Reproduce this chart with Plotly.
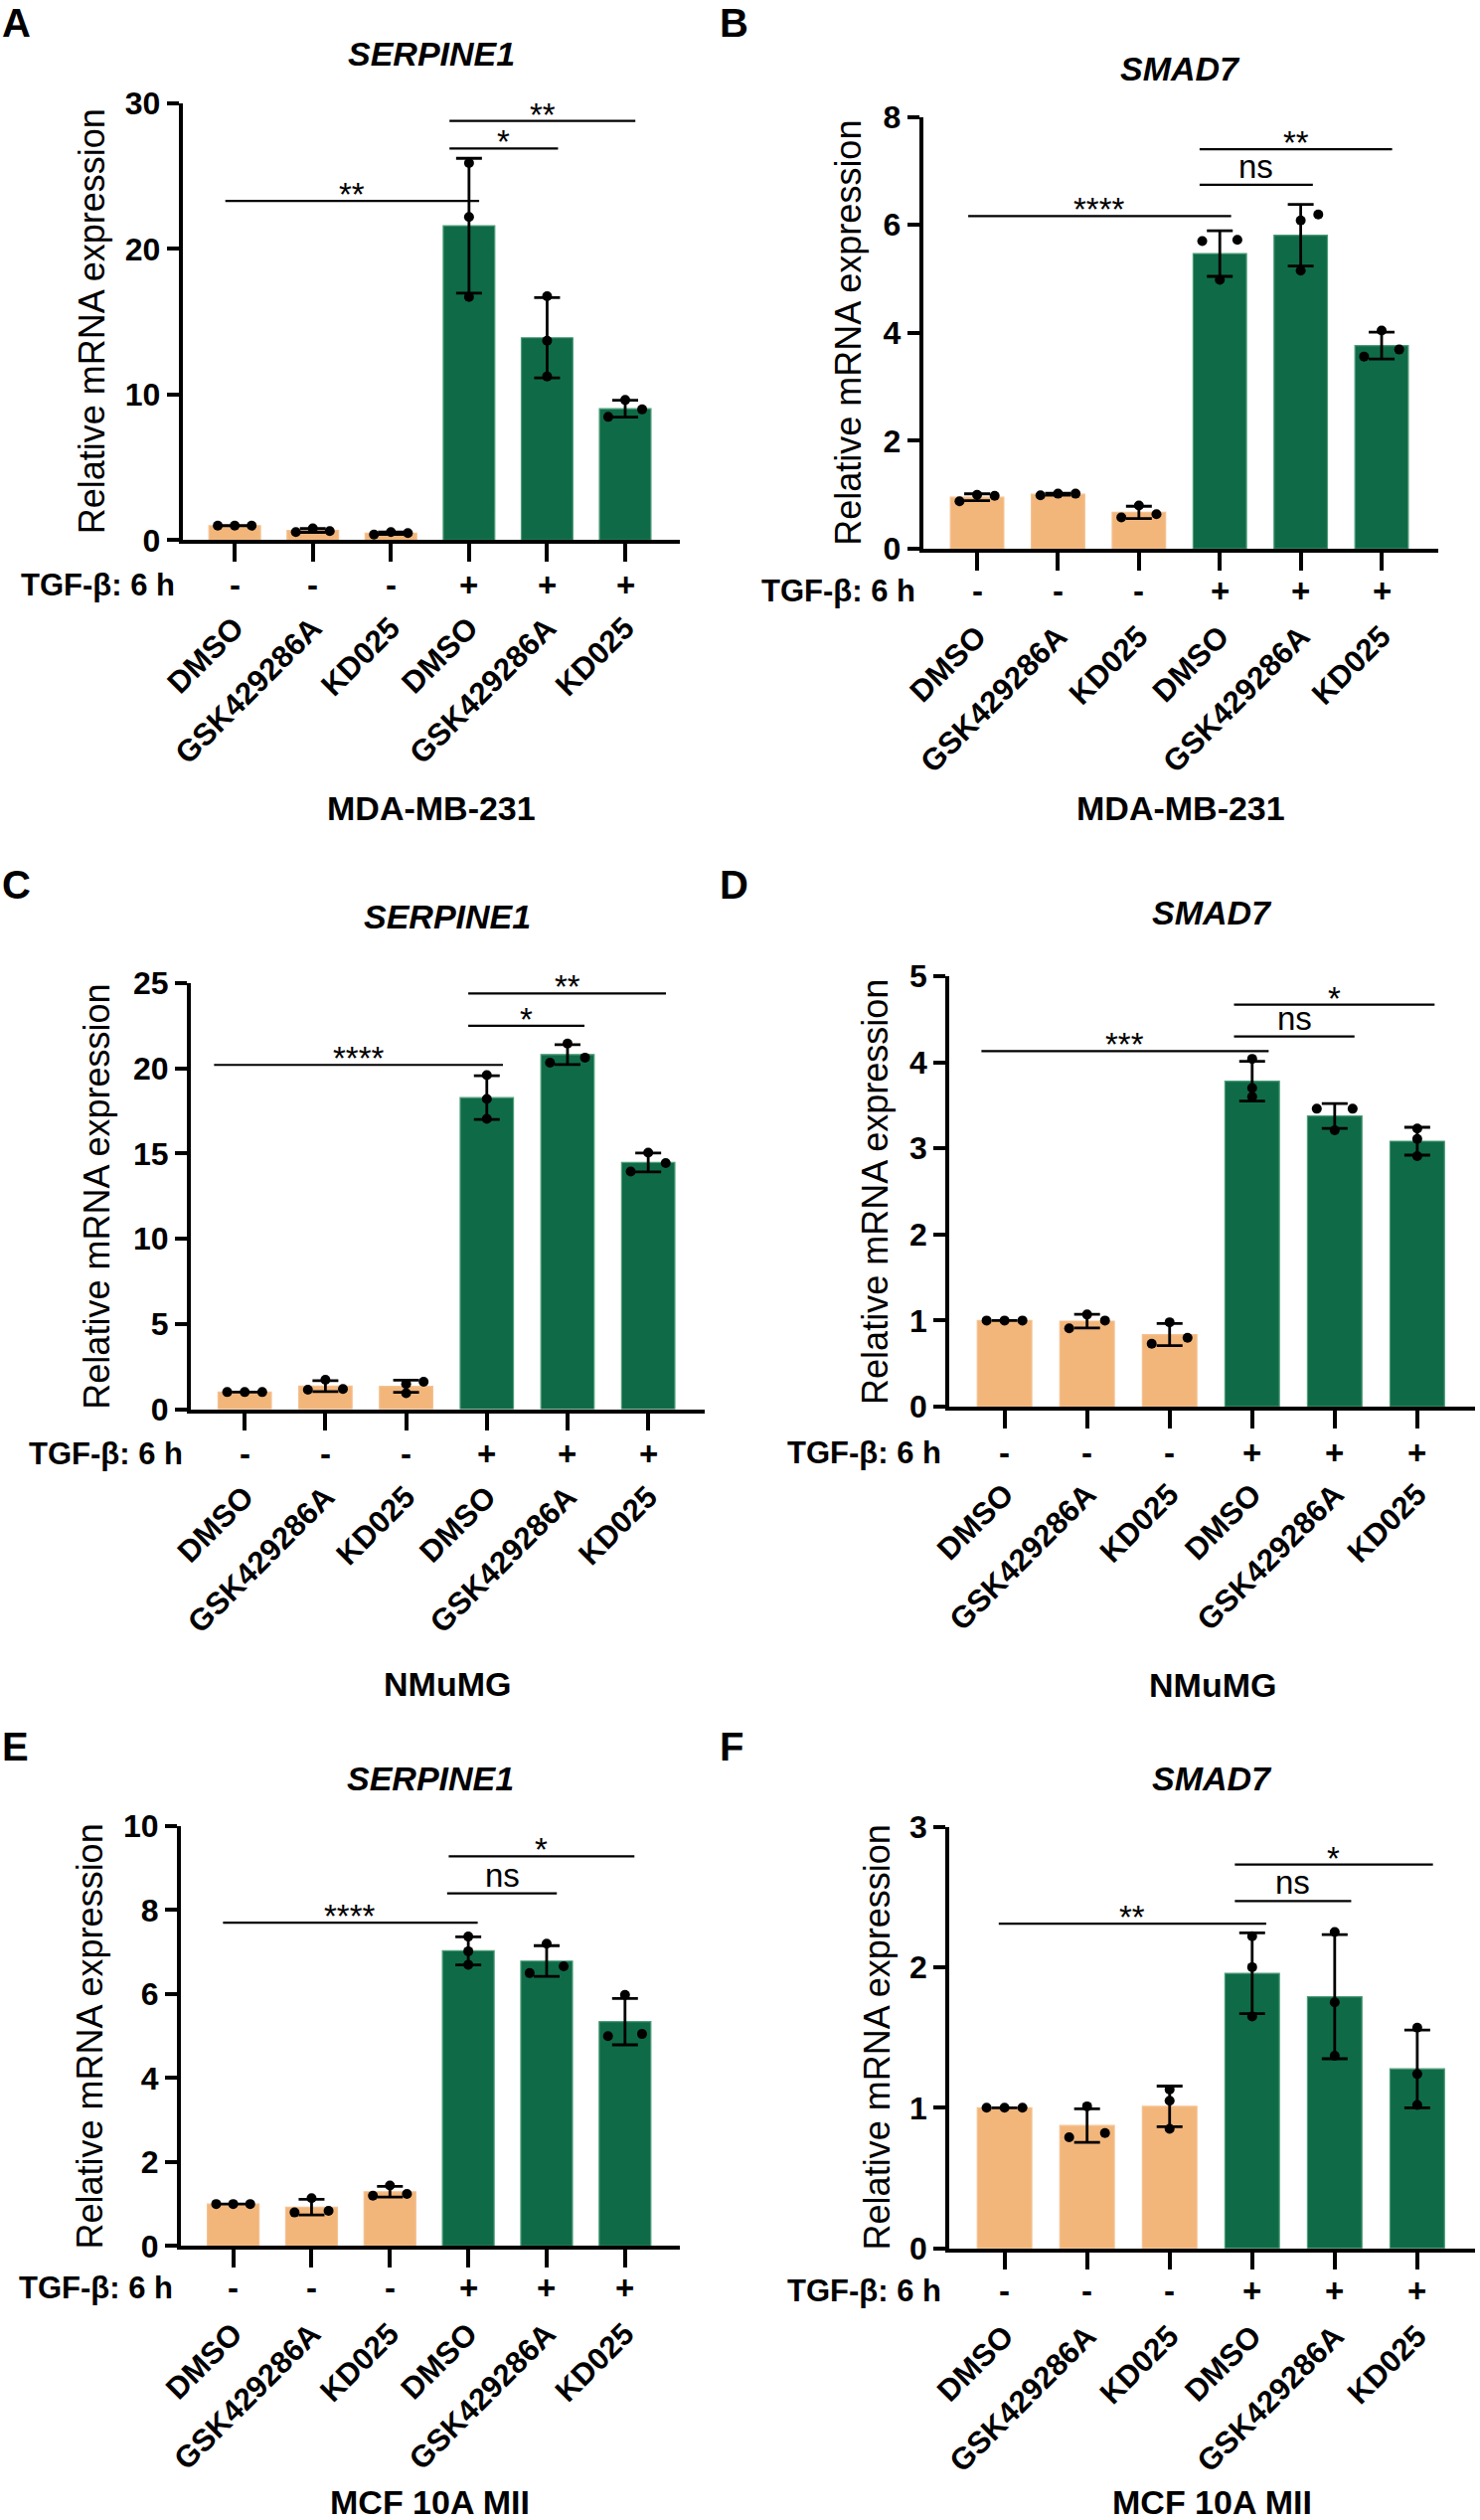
import numpy as np
import plotly.graph_objects as go

W, H = 1489, 2535

# ---------------- data ----------------
treatments = ["DMSO", "GSK429286A", "KD025", "DMSO", "GSK429286A", "KD025"]
tgf_signs = ["-", "-", "-", "+", "+", "+"]
genes = ["SERPINE1", "SMAD7", "SERPINE1", "SMAD7", "SERPINE1", "SMAD7"]
cell_lines = ["MDA-MB-231", "MDA-MB-231", "NMuMG", "NMuMG", "MCF 10A MII", "MCF 10A MII"]
panel_letters = ["A", "B", "C", "D", "E", "F"]
y_max = [30, 8, 25, 5, 10, 3]
y_dtick = [10, 2, 5, 1, 2, 1]

# replicate values (3 per group)
A_vals = [[1.0, 1.0, 1.0], [0.56, 0.81, 0.63], [0.39, 0.56, 0.49],
          [25.9, 22.2, 16.7], [16.76, 13.7, 11.25], [8.47, 9.63, 8.98]]
B_vals = [[0.88, 1.0, 0.98], [0.99, 1.02, 1.02], [0.58, 0.80, 0.64],
          [5.70, 5.72, 4.98], [6.08, 6.19, 5.15], [3.56, 4.04, 3.69]]
C_vals = [[1.0, 1.0, 1.0], [1.14, 1.72, 1.18], [0.93, 1.48, 1.60],
          [19.6, 18.2, 17.04], [20.33, 21.46, 20.63], [13.94, 15.05, 14.44]]
D_vals = [[1.0, 1.0, 1.0], [0.91, 1.07, 1.0], [0.73, 0.98, 0.80],
          [4.04, 3.70, 3.60], [3.46, 3.46, 3.21], [3.23, 3.11, 2.91]]
E_vals = [[1.0, 1.0, 1.0], [0.80, 1.14, 0.84], [1.20, 1.44, 1.24],
          [7.37, 7.02, 6.70], [6.50, 7.20, 6.66], [5.0, 5.98, 5.05]]
F_vals = [[1.0, 1.0, 1.0], [0.79, 1.01, 0.82], [1.13, 1.05, 0.85],
          [2.22, 2.0, 1.65], [2.25, 1.75, 1.37], [1.57, 1.24, 1.02]]

# horizontal scatter slot of each replicate dot (-1 left, 0 centre, 1 right)
A_slots = [[-1, 0, 1], [-1, 0, 1], [-1, 0, 1], [0, 0, 0], [0, 0, 0], [-1, 0, 1]]
B_slots = [[-1, 0, 1], [-1, 0, 1], [-1, 0, 1], [-1, 1, 0], [0, 1, 0], [-1, 0, 1]]
C_slots = [[-1, 0, 1], [-1, 0, 1], [0, 0, 1], [0, 0, 0], [-1, 0, 1], [-1, 0, 1]]
D_slots = [[-1, 0, 1], [-1, 0, 1], [-1, 0, 1], [0, 0, 0], [-1, 1, 0], [0, 0, 0]]
E_slots = [[-1, 0, 1], [-1, 0, 1], [-1, 0, 1], [0, 0, 0], [-1, 0, 1], [-1, 0, 1]]
F_slots = [[-1, 0, 1], [-1, 0, 1], [0, 0, 0], [0, 0, 0], [0, 0, 0], [0, 0, 0]]

# significance brackets: (x start, x end, y level, label)
A_sig = [(-0.12, 3.13, 23.3, "**"), (2.75, 4.14, 26.9, "*"), (2.75, 5.13, 28.8, "**")]
B_sig = [(-0.11, 3.14, 6.16, "****"), (2.75, 4.15, 6.74, "ns"), (2.75, 5.13, 7.40, "**")]
C_sig = [(-0.38, 3.20, 20.2, "****"), (2.77, 4.21, 22.5, "*"), (2.77, 5.22, 24.4, "**")]
D_sig = [(-0.28, 3.20, 4.13, "***"), (2.78, 4.24, 4.30, "ns"), (2.78, 5.21, 4.67, "*")]
E_sig = [(-0.13, 3.12, 7.70, "****"), (2.73, 4.13, 8.40, "ns"), (2.75, 5.12, 9.28, "*")]
F_sig = [(-0.07, 3.17, 2.31, "**"), (2.79, 4.20, 2.47, "ns"), (2.79, 5.19, 2.73, "*")]

all_vals = [A_vals, B_vals, C_vals, D_vals, E_vals, F_vals]
all_slots = [A_slots, B_slots, C_slots, D_slots, E_slots, F_slots]
all_sig = [A_sig, B_sig, C_sig, D_sig, E_sig, F_sig]

# ---------------- layout / style ----------------
ORANGE = "#F2B67B"
GREEN = "#0F6B47"
bar_colors = [ORANGE] * 3 + [GREEN] * 3
bar_edges = ["#F5C190"] * 3 + ["#4E9C78"] * 3
FONT = "Liberation Sans, Arial, Helvetica, sans-serif"
SLOT = 0.217

# pixel boxes: (x_left, x_right, y_top, y_bottom)
boxes = [(183.5, 684, 104, 543.4), (928.5, 1447, 117.5, 552),
         (191.8, 709, 989, 1417.5), (955, 1484, 982, 1415),
         (181.8, 684, 1837, 2259.4), (955, 1484, 1837.5, 2261.7)]
ytitle_x = [92.6, 854, 97.4, 880.4, 90.3, 882.8]
title_y = [54, 69, 922, 918, 1789, 1789]
cell_y = [813, 813, 1694, 1695, 2517, 2517]
tgf_y = [588, 595, 1462, 1461, 2301, 2304]
letter_pos = [(0, 23), (722, 23), (0, 890), (722, 890), (0, 1757), (722, 1757)]


def px(x):
    return x / W


def py(y):
    return 1 - y / H


fig = go.Figure()
annotations = []
shapes = []
cats = np.arange(6)

for p in range(6):
    n = p + 1
    xa = "x" if n == 1 else f"x{n}"
    ya = "y" if n == 1 else f"y{n}"
    vals = np.array(all_vals[p])
    means = vals.mean(axis=1)
    sds = vals.std(axis=1, ddof=1)

    fig.add_trace(go.Bar(
        x=cats, y=means, width=0.66, xaxis=xa, yaxis=ya,
        marker=dict(color=bar_colors, line=dict(color=bar_edges, width=1.2)),
        error_y=dict(type="data", array=sds, symmetric=True, color="black",
                     thickness=2.8, width=13),
        showlegend=False, hoverinfo="skip"))

    xs, ys = [], []
    for i in range(6):
        for v, s in zip(all_vals[p][i], all_slots[p][i]):
            xs.append(i + s * SLOT)
            ys.append(v)
    fig.add_trace(go.Scatter(
        x=xs, y=ys, mode="markers", xaxis=xa, yaxis=ya, cliponaxis=False,
        marker=dict(color="black", size=10), showlegend=False, hoverinfo="skip"))

    xl, xr, yt, yb = boxes[p]
    axis_common = dict(showgrid=False, zeroline=False, showline=True,
                       linecolor="black", linewidth=3.5, ticks="outside",
                       tickcolor="black", tickwidth=3.5, automargin=False)
    fig.layout[("xaxis" if n == 1 else f"xaxis{n}")] = dict(
        axis_common, domain=[px(xl), px(xr)], anchor=ya,
        range=[-0.67, 5.7], tickvals=list(cats), ticktext=treatments,
        tickangle=-45, ticklen=18, ticklabelstandoff=36,
        tickfont=dict(family=FONT, size=31, color="black", weight="bold"))
    fig.layout[("yaxis" if n == 1 else f"yaxis{n}")] = dict(
        axis_common, domain=[py(yb), py(yt)], anchor=xa,
        range=[0, y_max[p]], dtick=y_dtick[p], tick0=0, ticklen=12,
        tickfont=dict(family=FONT, size=32, color="black", weight="bold"))

    xmid = (xl + xr) / 2
    annotations.append(dict(x=px(xmid), y=py(title_y[p]), xref="paper", yref="paper",
                            text=f"<b><i>{genes[p]}</i></b>", showarrow=False,
                            xanchor="center", yanchor="middle",
                            font=dict(family=FONT, size=34, color="black")))
    annotations.append(dict(x=px(xmid), y=py(cell_y[p]), xref="paper", yref="paper",
                            text=f"<b>{cell_lines[p]}</b>", showarrow=False,
                            xanchor="center", yanchor="middle",
                            font=dict(family=FONT, size=34, color="black")))
    lx, ly = letter_pos[p]
    annotations.append(dict(x=px(lx), y=py(ly), xref="paper", yref="paper",
                            text=f"<b>{panel_letters[p]}</b>", showarrow=False,
                            xanchor="left", yanchor="middle",
                            font=dict(family=FONT, size=40, color="black")))
    annotations.append(dict(x=px(ytitle_x[p]), y=py((yt + yb) / 2), xref="paper", yref="paper",
                            text="Relative mRNA expression", showarrow=False, textangle=-90,
                            xanchor="center", yanchor="middle",
                            font=dict(family=FONT, size=36, color="black")))
    annotations.append(dict(x=px(xl - 6), y=py(tgf_y[p]), xref="paper", yref="paper",
                            text="<b>TGF-β: 6 h</b>", showarrow=False,
                            xanchor="right", yanchor="middle",
                            font=dict(family=FONT, size=31, color="black")))
    for i in range(6):
        annotations.append(dict(x=i, y=py(tgf_y[p]), xref=xa, yref="paper",
                                text=f"<b>{tgf_signs[i]}</b>", showarrow=False,
                                xanchor="center", yanchor="middle",
                                font=dict(family=FONT, size=33, color="black")))
    for (x0, x1, yv, lab) in all_sig[p]:
        shapes.append(dict(type="line", xref=xa, yref=ya, x0=x0, x1=x1, y0=yv, y1=yv,
                           line=dict(color="black", width=2.2)))
        is_star = lab.startswith("*")
        annotations.append(dict(x=(x0 + x1) / 2, y=yv, xref=xa, yref=ya, text=lab,
                                showarrow=False, xanchor="center", yanchor="bottom",
                                yshift=-14 if is_star else -2,
                                font=dict(family=FONT, size=33, color="black")))

fig.update_layout(width=W, height=H,
                  margin=dict(l=0, r=0, t=0, b=0, pad=0, autoexpand=False),
                  paper_bgcolor="white", plot_bgcolor="white",
                  annotations=annotations, shapes=shapes,
                  showlegend=False)

fig.write_html("out.html", post_script="document.body.style.margin='0';")
